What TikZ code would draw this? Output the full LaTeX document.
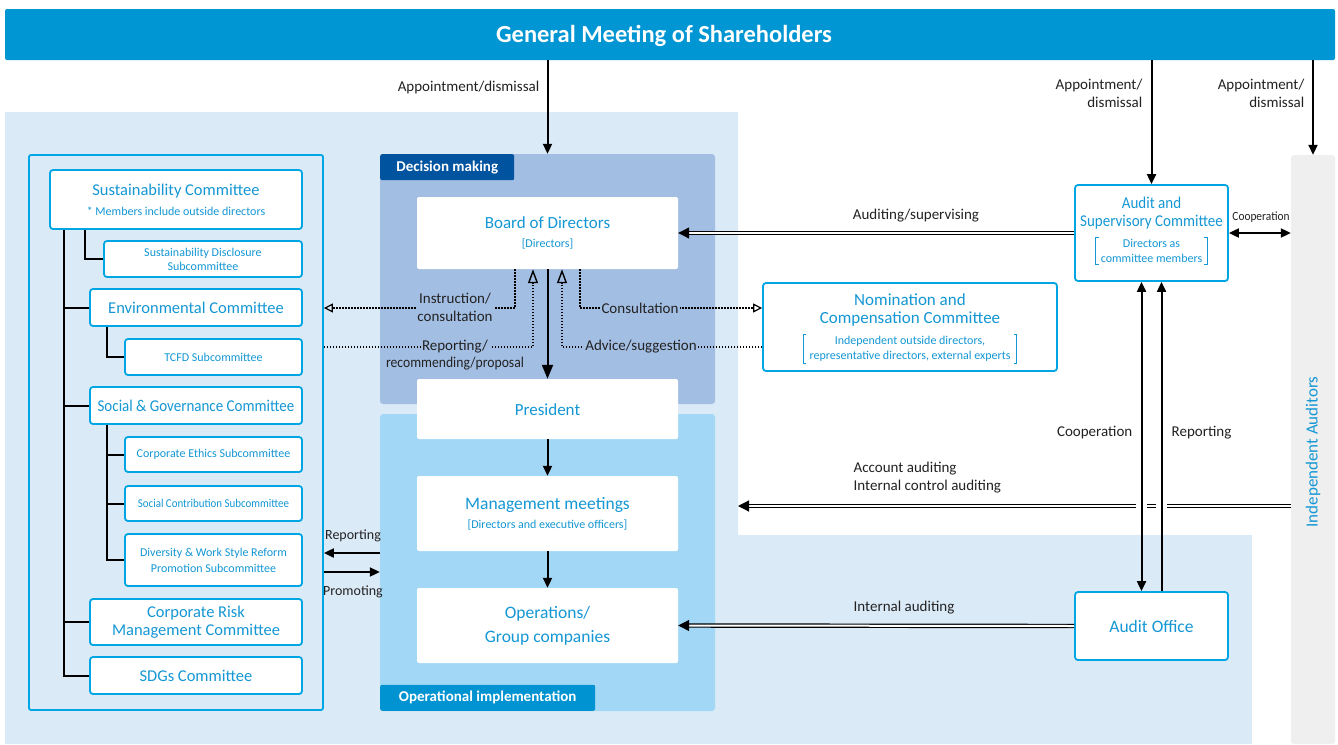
\documentclass[tikz,border=0pt]{standalone}
\usepackage{fontspec}
\setmainfont{Carlito}
\newfontfamily\narrowf{Carlito}[FakeStretch=0.91]
\usetikzlibrary{arrows.meta}
\definecolor{banner}{HTML}{0095D3}
\definecolor{bgl}{HTML}{DBEAF7}
\definecolor{dec}{HTML}{A3BEE3}
\definecolor{dectab}{HTML}{00539F}
\definecolor{opc}{HTML}{A2D8F5}
\definecolor{optab}{HTML}{0093D2}
\definecolor{cyanb}{HTML}{00A5E3}
\definecolor{tblue}{HTML}{1497D4}
\definecolor{gpanel}{HTML}{EFEFEF}
\definecolor{lblk}{HTML}{222222}
\newcommand\myfs[2]{\fontsize{#1}{#2}\selectfont}
\begin{document}
\begin{tikzpicture}[x=1pt,y=-1pt,
  box/.style={draw=cyanb, line width=1.8pt, fill=white, rounded corners=3pt, inner sep=0pt},
  wbox/.style={fill=white, rounded corners=2pt, inner sep=0pt},
  ttl/.style={text=tblue, font=\myfs{16.5}{18}, align=center, inner sep=0pt},
  subt/.style={text=tblue, font=\myfs{12}{14.5}, align=center, inner sep=0pt},
  lbl/.style={text=lblk, font=\myfs{15}{18}, inner sep=1.5pt},
  arr/.style={draw=black, line width=2pt, -{Triangle[length=10pt,width=9pt]}},
  arrb/.style={draw=black, line width=2pt, {Triangle[length=10pt,width=9pt]}-{Triangle[length=10pt,width=9pt]}},
  dbl/.style={draw=black, double=white, double distance=2pt, line width=1.2pt, -{Triangle[length=11pt,width=11pt]}},
  dotl/.style={draw=black, line width=1.5pt, dash pattern=on 1.5pt off 1.5pt},
  opentip/.style={-{Triangle[open,length=9pt,width=9pt,line width=1.2pt]}},
  opentall/.style={-{Triangle[open,length=14pt,width=10pt,line width=1.4pt]}},
  tree/.style={draw=black, line width=2pt},
  brk/.style={draw=tblue, line width=0.7pt},
  tabn/.style={inner sep=0pt, text=white, font=\bfseries\myfs{15}{18}, rounded corners=2pt}
]
\useasboundingbox (0,0) rectangle (1338,744);
\fill[white] (0,0) rectangle (1338,744);
\fill[bgl] (5,112) -- (738,112) -- (738,535) -- (1252,535) -- (1252,744) -- (5,744) -- cycle;

% banner
\node[fill=banner, rounded corners=2pt, minimum width=1330pt, minimum height=51pt, inner sep=0pt] (gm) at (670,34.5) {};
\node[text=white, font=\bfseries\myfs{24.5}{27}] (gmt) at (664,36) {General Meeting of Shareholders};

% independent auditors
\node[fill=gpanel, rounded corners=3pt, minimum width=44pt, minimum height=589pt, inner sep=0pt] (ia) at (1313,449.5) {};
\node[rotate=90, text=tblue, font=\myfs{17}{19}] (ialab) at (1313,452) {Independent Auditors};

% decision / operational areas
\node[fill=dec, rounded corners=3pt, minimum width=335pt, minimum height=250pt, inner sep=0pt] (dm) at (547.5,279) {};
\node[fill=opc, rounded corners=3pt, minimum width=335pt, minimum height=297pt, inner sep=0pt] (op) at (547.5,562.5) {};
\node[tabn, fill=dectab, minimum width=134pt, minimum height=26pt, anchor=north west] (dmtab) at (380,154) {Decision making};
\node[tabn, fill=optab, minimum width=215pt, minimum height=26pt, anchor=south west] (optab) at (380,711) {Operational implementation};

% left panel
\node[draw=cyanb, line width=1.8pt, rounded corners=2pt, minimum width=294pt, minimum height=555pt, inner sep=0pt] (lp) at (176,432.5) {};
\node[box, minimum width=252pt, minimum height=59pt] (sc) at (176,199.5) {};
\node[ttl] (sct) at (176,191) {Sustainability Committee};
\node[subt] (scs) at (176,211) {* Members include outside directors};
\node[box, minimum width=198pt, minimum height=36pt] (sds) at (203,259) {};
\node[subt, font=\myfs{12}{14}] (sdst) at (203,259) {Sustainability Disclosure\\Subcommittee};
\node[box, minimum width=212pt, minimum height=37pt] (env) at (196,307.5) {};
\node[ttl] (envt) at (196,307.5) {Environmental Committee};
\node[box, minimum width=177pt, minimum height=36pt] (tcfd) at (213.5,357) {};
\node[subt] (tcfdt) at (213.5,357) {TCFD Subcommittee};
\node[box, minimum width=212pt, minimum height=37pt] (sg) at (196,405.5) {};
\node[ttl, font=\narrowf\myfs{16.5}{18}] (sgt) at (196,405.5) {Social \& Governance Committee};
\node[box, minimum width=177pt, minimum height=35pt] (ce) at (213.5,454.5) {};
\node[subt] (cet) at (213.5,454.5) {Corporate Ethics Subcommittee};
\node[box, minimum width=177pt, minimum height=35pt] (scm) at (213.5,503.5) {};
\node[subt, font=\narrowf\myfs{12}{14}] (scmt) at (213.5,503.5) {Social Contribution Subcommittee};
\node[box, minimum width=177pt, minimum height=52pt] (dws) at (213.5,560) {};
\node[subt, font=\myfs{12}{16}] (dwst) at (213.5,560) {Diversity \& Work Style Reform\\Promotion Subcommittee};
\node[box, minimum width=212pt, minimum height=46pt] (crm) at (196,622) {};
\node[ttl] (crmt) at (196,622) {Corporate Risk\\Management Committee};
\node[box, minimum width=212pt, minimum height=37pt] (sdg) at (196,675.5) {};
\node[ttl] (sdgt) at (196,675.5) {SDGs Committee};

% tree
\draw[tree] ([xshift=-112pt]sc.south) |- (sdg.west);
\draw[tree] (env.west) -- ++(-26pt,0);
\draw[tree] (sg.west) -- ++(-26pt,0);
\draw[tree] (crm.west) -- ++(-26pt,0);
\draw[tree] ([xshift=-91pt]sc.south) |- (sds.west);
\draw[tree] ([xshift=-89pt]env.south) |- (tcfd.west);
\draw[tree] ([xshift=-89pt]sg.south) |- (dws.west);
\draw[tree] (ce.west) -- ++(-18pt,0);
\draw[tree] (scm.west) -- ++(-18pt,0);

% center boxes
\node[wbox, minimum width=261pt, minimum height=72pt] (bod) at (547.5,233) {};
\node[ttl, font=\myfs{17}{19}] (bodt) at (547.5,223) {Board of Directors};
\node[subt] (bods) at (547.5,244) {[Directors]};
\node[wbox, minimum width=261pt, minimum height=60pt] (pres) at (547.5,409) {};
\node[ttl, font=\myfs{17}{19}] (prest) at (547.5,410) {President};
\node[wbox, minimum width=261pt, minimum height=75pt] (mm) at (547.5,513.5) {};
\node[ttl, font=\myfs{17.5}{19}] (mmt) at (547.5,505) {Management meetings};
\node[subt] (mms) at (547.5,525) {[Directors and executive officers]};
\node[wbox, minimum width=261pt, minimum height=75pt] (ops) at (547.5,625.5) {};
\node[ttl, font=\myfs{17.5}{24}] (opst) at (547.5,626) {Operations/\\Group companies};

% right boxes
\node[box, minimum width=294pt, minimum height=88pt] (ncc) at (910,327) {};
\node[ttl, font=\myfs{17}{18}] (ncct) at (910,310) {Nomination and\\Compensation Committee};
\node[subt, inner xsep=6pt, inner ysep=2pt] (nccs) at (910,349) {Independent outside directors,\\representative directors, external experts};
\draw[brk] ([xshift=3pt]nccs.north west) -- (nccs.north west) -- (nccs.south west) -- ([xshift=3pt]nccs.south west);
\draw[brk] ([xshift=-3pt]nccs.north east) -- (nccs.north east) -- (nccs.south east) -- ([xshift=-3pt]nccs.south east);

\node[box, minimum width=153pt, minimum height=96pt] (asc) at (1151.5,233) {};
\node[ttl, font=\narrowf\myfs{16.5}{18}] (asct) at (1151.5,213) {Audit and\\Supervisory Committee};
\node[subt, inner xsep=5pt, inner ysep=2pt] (ascs) at (1151.5,251) {Directors as\\committee members};
\draw[brk] ([xshift=3pt]ascs.north west) -- (ascs.north west) -- (ascs.south west) -- ([xshift=3pt]ascs.south west);
\draw[brk] ([xshift=-3pt]ascs.north east) -- (ascs.north east) -- (ascs.south east) -- ([xshift=-3pt]ascs.south east);

\node[box, minimum width=153pt, minimum height=68pt] (ao) at (1151.5,626) {};
\node[ttl, font=\myfs{17.5}{19}] (aot) at (1151.5,626) {Audit Office};

% solid arrows
\draw[arr] (gm.south -| bod.north) -- (bod.north |- dm.north);
\draw[arr] (gm.south -| asc.north) -- (asc.north);
\draw[arr] (gm.south -| ia.north) -- (ia.north);
\draw[arr, -{Triangle[length=14pt,width=11pt]}] (bod.south) -- (pres.north);
\draw[arr] (pres.south) -- (mm.north);
\draw[arr] (mm.south) -- (ops.north);
\draw[arrb] (asc.east) -- (asc.east -| ia.west);
\draw[arr] (op.west |- 0,553) -- (lp.east |- 0,553);
\draw[arr] (lp.east |- 0,572) -- (op.west |- 0,572);

% double arrows
\coordinate (accend) at (738,506);
\draw[dbl] (asc.west) -- (bod.east);
\draw[dbl] (ia.west |- accend) -- (accend);
\draw[dbl] (ao.west) -- (ops.east);
\fill[white] (1136,500) rectangle (1147,512);
\fill[white] (1156,500) rectangle (1167,512);
\draw[arrb] ([xshift=-10pt]asc.south) -- ([xshift=-10pt]ao.north);
\draw[arr] ([xshift=10pt]ao.north) -- ([xshift=10pt]asc.south);

% dotted arrows
\draw[dotl, opentip] ([xshift=-32.5pt]bod.south) |- (lp.east |- 0,308);
\draw[dotl, opentall] (lp.east |- 0,347) -| ([xshift=-14.5pt]bod.south);
\draw[dotl, opentip] ([xshift=32.5pt]bod.south) |- (ncc.west |- 0,308);
\draw[dotl, opentall] (ncc.west |- 0,347) -| ([xshift=14.5pt]bod.south);

% labels
\node[lbl, anchor=east] (l1) at (541,87) {Appointment/dismissal};
\node[lbl, anchor=east, align=right] (l2) at (1144,93) {Appointment/\\dismissal};
\node[lbl, anchor=east, align=right] (l3) at (1306,93) {Appointment/\\dismissal};
\node[lbl] (l4) at (916,216) {Auditing/supervising};
\node[lbl, font=\narrowf\myfs{12.5}{14}] (l5) at (1261,217) {Cooperation};
\node[lbl, fill=dec, align=center] (l6) at (455,307) {Instruction/\\consultation};
\node[lbl, fill=dec] (l7a) at (455,347) {Reporting/};
\node[lbl, font=\narrowf\myfs{15}{18}] (l7b) at (455,364) {recommending/proposal};
\node[lbl, fill=dec] (l8) at (640,308) {Consultation};
\node[lbl, fill=dec] (l9) at (641,347) {Advice/suggestion};
\node[lbl, anchor=east] (l10) at (1134,433) {Cooperation};
\node[lbl, anchor=west] (l11) at (1170,433) {Reporting};
\node[lbl, anchor=west, align=left] (l12) at (852,478) {Account auditing\\Internal control auditing};
\node[lbl, anchor=west] (l13) at (852,608) {Internal auditing};
\node[lbl, font=\myfs{14}{16}] (l14) at (353,536) {Reporting};
\node[lbl, font=\myfs{14}{16}] (l15) at (353,592) {Promoting};
\end{tikzpicture}
\end{document}
